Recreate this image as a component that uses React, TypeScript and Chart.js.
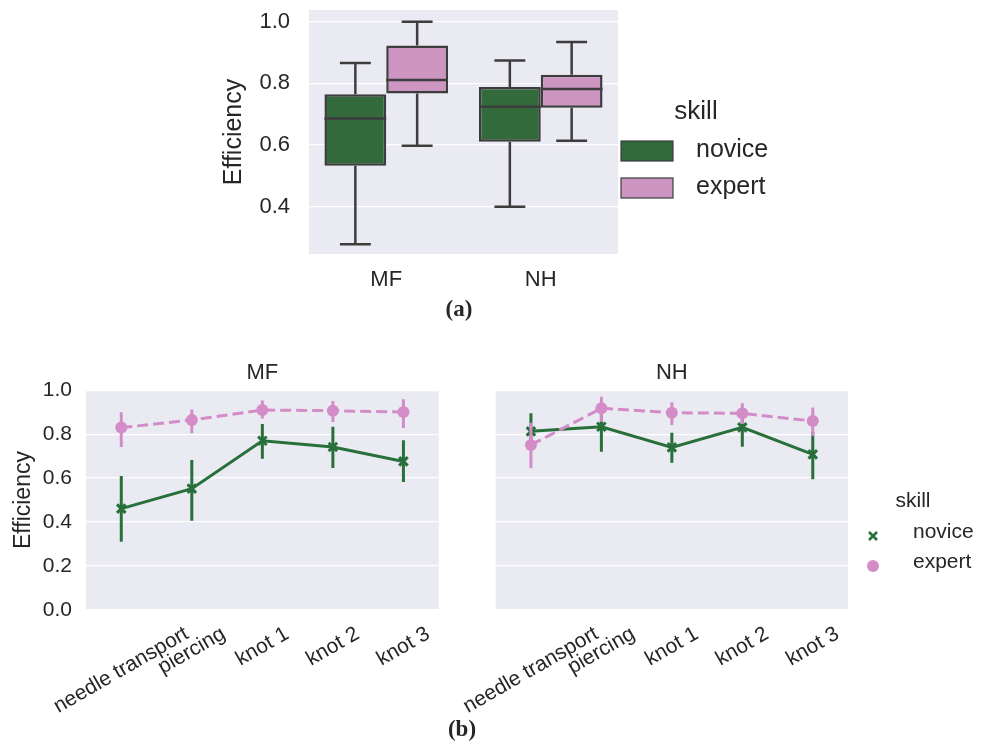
import React, { useEffect, useRef } from 'react';
import { Chart, registerables } from 'chart.js';

Chart.register(...registerables);

// ---------- data: panel (a) box plot ----------
const boxCategories = ['MF', 'NH'];
const skillNames = ['novice', 'expert'];
const noviceBoxMin = [0.279, 0.400];
const noviceBoxQ1 = [0.533, 0.611];
const noviceBoxMedian = [0.686, 0.724];
const noviceBoxQ3 = [0.765, 0.788];
const noviceBoxMax = [0.866, 0.874];
const expertBoxMin = [0.598, 0.614];
const expertBoxQ1 = [0.767, 0.721];
const expertBoxMedian = [0.811, 0.782];
const expertBoxQ3 = [0.923, 0.828];
const expertBoxMax = [1.0, 0.934];
const boxYTicks = [0.4, 0.6, 0.8, 1.0];

// ---------- data: panel (b) point plots ----------
const tasks = ['needle transport', 'piercing', 'knot 1', 'knot 2', 'knot 3'];
const mfNoviceMean = [0.461, 0.552, 0.770, 0.742, 0.676];
const mfNoviceLow = [0.310, 0.406, 0.688, 0.646, 0.582];
const mfNoviceHigh = [0.610, 0.682, 0.846, 0.834, 0.772];
const mfExpertMean = [0.830, 0.865, 0.910, 0.907, 0.901];
const mfExpertLow = [0.742, 0.804, 0.871, 0.856, 0.828];
const mfExpertHigh = [0.900, 0.913, 0.953, 0.951, 0.959];
const nhNoviceMean = [0.813, 0.834, 0.740, 0.831, 0.708];
const nhNoviceLow = [0.735, 0.720, 0.670, 0.743, 0.595];
const nhNoviceHigh = [0.895, 0.940, 0.807, 0.915, 0.810];
const nhExpertMean = [0.751, 0.918, 0.898, 0.895, 0.860];
const nhExpertLow = [0.645, 0.857, 0.842, 0.846, 0.792];
const nhExpertHigh = [0.852, 0.971, 0.945, 0.941, 0.922];
const pointYTicks = [0.0, 0.2, 0.4, 0.6, 0.8, 1.0];

// ---------- styles ----------
const SANS = '"Liberation Sans", Arial, Helvetica, sans-serif';
const SERIF = '"Liberation Serif", "Times New Roman", serif';
const TEXT = '#262626';
const BG = '#eaeaf2';
const GREEN = '#28703a';
const PINK = '#d48cc8';
const BOX_GREEN = '#326a3c';
const BOX_PINK = '#cd96c2';
const EDGE = '#3d3d3d';
const W = 989;
const H = 746;

const bgPlugin = {
  id: 'bgFill',
  beforeDraw(chart: any) {
    const { ctx, chartArea: a } = chart;
    ctx.save();
    ctx.fillStyle = BG;
    ctx.fillRect(a.left, a.top, a.right - a.left, a.bottom - a.top);
    ctx.restore();
  },
};

const boxStats = [
  { min: noviceBoxMin, median: noviceBoxMedian, max: noviceBoxMax, q1: noviceBoxQ1, q3: noviceBoxQ3 },
  { min: expertBoxMin, median: expertBoxMedian, max: expertBoxMax, q1: expertBoxQ1, q3: expertBoxQ3 },
];

const boxPlugin = {
  id: 'boxWhiskers',
  afterDatasetsDraw(chart: any) {
    const ctx = chart.ctx;
    const ys = chart.scales.y;
    chart.data.datasets.forEach((_ds: any, di: number) => {
      const meta = chart.getDatasetMeta(di);
      const st = boxStats[di];
      meta.data.forEach((bar: any, i: number) => {
        const { x, width } = bar.getProps(['x', 'width'], true);
        const yMin = ys.getPixelForValue(st.min[i]);
        const yMax = ys.getPixelForValue(st.max[i]);
        const yQ1 = ys.getPixelForValue(st.q1[i]);
        const yQ3 = ys.getPixelForValue(st.q3[i]);
        const yMed = ys.getPixelForValue(st.median[i]);
        ctx.save();
        ctx.strokeStyle = EDGE;
        ctx.lineWidth = 2.5;
        ctx.lineCap = 'butt';
        ctx.beginPath();
        ctx.moveTo(x, yQ3);
        ctx.lineTo(x, yMax);
        ctx.moveTo(x, yQ1);
        ctx.lineTo(x, yMin);
        ctx.moveTo(x - width / 4, yMax);
        ctx.lineTo(x + width / 4, yMax);
        ctx.moveTo(x - width / 4, yMin);
        ctx.lineTo(x + width / 4, yMin);
        ctx.moveTo(x - width / 2, yMed);
        ctx.lineTo(x + width / 2, yMed);
        ctx.stroke();
        ctx.restore();
      });
    });
  },
};

const legendAPlugin = {
  id: 'legendA',
  afterDraw(chart: any) {
    const ctx = chart.ctx;
    ctx.save();
    ctx.fillStyle = TEXT;
    ctx.textBaseline = 'middle';
    ctx.textAlign = 'center';
    ctx.font = `26px ${SANS}`;
    ctx.fillText('skill', 696, 112);
    const fills = [BOX_GREEN, BOX_PINK];
    const rows = [151, 188];
    skillNames.forEach((name, i) => {
      ctx.fillStyle = fills[i];
      ctx.strokeStyle = EDGE;
      ctx.lineWidth = 1.2;
      ctx.fillRect(621, rows[i] - 10, 52, 20);
      ctx.strokeRect(621, rows[i] - 10, 52, 20);
      ctx.fillStyle = TEXT;
      ctx.textAlign = 'left';
      ctx.font = `25px ${SANS}`;
      ctx.fillText(name, 696, rows[i] - 1);
    });
    ctx.textAlign = 'center';
    ctx.font = `bold 23px ${SERIF}`;
    ctx.fillText('(a)', 459, 310);
    ctx.restore();
  },
};

const errorBarPlugin = {
  id: 'errorBars',
  beforeDatasetDraw(chart: any, args: any) {
    const ds = chart.data.datasets[args.index];
    if (!ds.errLow) return;
    const ctx = chart.ctx;
    const ys = chart.scales.y;
    const meta = chart.getDatasetMeta(args.index);
    ctx.save();
    ctx.strokeStyle = ds.borderColor;
    ctx.lineWidth = 3;
    ctx.beginPath();
    meta.data.forEach((pt: any, i: number) => {
      ctx.moveTo(pt.x, ys.getPixelForValue(ds.errLow[i]));
      ctx.lineTo(pt.x, ys.getPixelForValue(ds.errHigh[i]));
    });
    ctx.stroke();
    ctx.restore();
  },
};

const panelTextPlugin = {
  id: 'panelText',
  afterDraw(chart: any, _args: any, opts: any) {
    const ctx = chart.ctx;
    const a = chart.chartArea;
    const xs = chart.scales.x;
    ctx.save();
    ctx.fillStyle = TEXT;
    ctx.textAlign = 'center';
    ctx.textBaseline = 'middle';
    ctx.font = `22px ${SANS}`;
    ctx.fillText(opts.title, (a.left + a.right) / 2, a.top - 17);
    // rotated category labels, centred under each tick
    const ang = Math.PI / 6;
    const fs = 21;
    ctx.font = `${fs}px ${SANS}`;
    (chart.data.labels as string[]).forEach((lab, i) => {
      const x = xs.getPixelForTick(i);
      const L = ctx.measureText(lab).width;
      const bh = L * Math.sin(ang) + fs * 1.05 * Math.cos(ang);
      const cy = a.bottom + 13 + bh / 2;
      ctx.save();
      ctx.translate(x, cy);
      ctx.rotate(-ang);
      ctx.fillText(lab, 0, 0);
      ctx.restore();
    });
    ctx.restore();
  },
};

const legendBPlugin = {
  id: 'legendB',
  afterDraw(chart: any) {
    const ctx = chart.ctx;
    ctx.save();
    ctx.fillStyle = TEXT;
    ctx.textBaseline = 'middle';
    ctx.textAlign = 'center';
    ctx.font = `21px ${SANS}`;
    ctx.fillText('skill', 913, 501);
    // novice marker (x)
    ctx.strokeStyle = GREEN;
    ctx.lineWidth = 2.5;
    ctx.beginPath();
    ctx.moveTo(869, 532);
    ctx.lineTo(877, 540);
    ctx.moveTo(877, 532);
    ctx.lineTo(869, 540);
    ctx.stroke();
    // expert marker (circle)
    ctx.fillStyle = PINK;
    ctx.beginPath();
    ctx.arc(873, 566, 6, 0, Math.PI * 2);
    ctx.fill();
    ctx.fillStyle = TEXT;
    ctx.textAlign = 'left';
    ctx.fillText('novice', 913, 532);
    ctx.fillText('expert', 913, 562);
    ctx.textAlign = 'center';
    ctx.font = `bold 23px ${SERIF}`;
    ctx.fillText('(b)', 462, 730);
    ctx.restore();
  },
};

// remove the automatic label overhang padding so the plot area sits exactly where the layout says
const noOverhang = (s: any) => {
  s.paddingTop = 0;
  s.paddingBottom = 0;
  s.paddingLeft = 0;
  s.paddingRight = 0;
};

function boxConfig(): any {
  return {
    type: 'bar',
    data: {
      labels: boxCategories,
      datasets: [
        {
          label: skillNames[0],
          data: boxCategories.map((_, i) => [noviceBoxQ1[i], noviceBoxQ3[i]]),
          backgroundColor: BOX_GREEN,
          borderColor: EDGE,
          borderWidth: 2.5,
          borderSkipped: false,
          categoryPercentage: 0.8,
          barPercentage: 1.0,
        },
        {
          label: skillNames[1],
          data: boxCategories.map((_, i) => [expertBoxQ1[i], expertBoxQ3[i]]),
          backgroundColor: BOX_PINK,
          borderColor: EDGE,
          borderWidth: 2.5,
          borderSkipped: false,
          categoryPercentage: 0.8,
          barPercentage: 1.0,
        },
      ],
    },
    options: {
      responsive: false,
      animation: false,
      layout: { padding: { left: 209, right: 371, top: 10, bottom: 432 } },
      plugins: { legend: { display: false }, tooltip: { enabled: false } },
      scales: {
        x: {
          grid: { display: false, drawTicks: false },
          border: { display: false },
          ticks: { font: { family: SANS, size: 22 }, color: TEXT, padding: 13 },
          afterFit: (s: any) => { s.height = 60; noOverhang(s); },
        },
        y: {
          min: 0.247,
          max: 1.038,
          afterBuildTicks: (s: any) => { s.ticks = boxYTicks.map((v) => ({ value: v })); },
          grid: { color: '#ffffff', lineWidth: 1.3, drawTicks: false },
          border: { display: false },
          ticks: {
            font: { family: SANS, size: 22 },
            color: TEXT,
            padding: 19,
            callback: (v: any) => Number(v).toFixed(1),
          },
          title: {
            display: true,
            text: 'Efficiency',
            font: { family: SANS, size: 25 },
            color: TEXT,
            padding: { top: 10, bottom: 0 },
          },
          afterFit: (s: any) => { s.width = 100; noOverhang(s); },
        },
      },
    },
    plugins: [bgPlugin, boxPlugin, legendAPlugin],
  };
}

function pointConfig(
  title: string,
  noviceMean: number[], noviceLow: number[], noviceHigh: number[],
  expertMean: number[], expertLow: number[], expertHigh: number[],
  showY: boolean, padLeft: number, padRight: number, extra: any[],
): any {
  return {
    type: 'line',
    data: {
      labels: tasks,
      datasets: [
        {
          label: skillNames[0],
          data: noviceMean,
          errLow: noviceLow,
          errHigh: noviceHigh,
          borderColor: GREEN,
          backgroundColor: GREEN,
          borderWidth: 3,
          pointStyle: 'crossRot',
          pointRadius: 6,
          pointBorderWidth: 3,
          pointBorderColor: GREEN,
          tension: 0,
          order: 2,
        },
        {
          label: skillNames[1],
          data: expertMean,
          errLow: expertLow,
          errHigh: expertHigh,
          borderColor: PINK,
          backgroundColor: PINK,
          borderWidth: 3,
          borderDash: [11, 5],
          pointStyle: 'circle',
          pointRadius: 6,
          pointBorderWidth: 0,
          pointBackgroundColor: PINK,
          tension: 0,
          order: 1,
        },
      ],
    },
    options: {
      responsive: false,
      animation: false,
      layout: { padding: { left: padLeft, right: padRight, top: 390.3, bottom: 76.2 } },
      plugins: {
        legend: { display: false },
        tooltip: { enabled: false },
        panelText: { title },
      },
      scales: {
        x: {
          offset: true,
          grid: { display: false, drawTicks: false },
          border: { display: false },
          ticks: { display: false },
          afterFit: (s: any) => { s.height = 60; noOverhang(s); },
        },
        y: {
          min: 0,
          max: 1,
          afterBuildTicks: (s: any) => { s.ticks = pointYTicks.map((v) => ({ value: v })); },
          grid: { color: '#ffffff', lineWidth: 1.3, drawTicks: false },
          border: { display: false },
          ticks: {
            display: showY,
            font: { family: SANS, size: 21 },
            color: TEXT,
            padding: 14,
            callback: (v: any) => Number(v).toFixed(1),
          },
          title: {
            display: showY,
            text: 'Efficiency',
            font: { family: SANS, size: 23 },
            color: TEXT,
            padding: { top: 4, bottom: 0 },
          },
          afterFit: (s: any) => { s.width = showY ? 80 : 0; noOverhang(s); },
        },
      },
    },
    plugins: [bgPlugin, errorBarPlugin, panelTextPlugin, ...extra],
  };
}

const canvasStyle: React.CSSProperties = {
  position: 'absolute',
  left: 0,
  top: 0,
  width: W,
  height: H,
};

export default function App() {
  const refA = useRef<HTMLCanvasElement>(null);
  const refB = useRef<HTMLCanvasElement>(null);
  const refC = useRef<HTMLCanvasElement>(null);

  useEffect(() => {
    const charts: Chart[] = [];
    if (refA.current) charts.push(new Chart(refA.current, boxConfig()));
    if (refB.current)
      charts.push(new Chart(refB.current, pointConfig('MF',
        mfNoviceMean, mfNoviceLow, mfNoviceHigh,
        mfExpertMean, mfExpertLow, mfExpertHigh,
        true, 6, 550.3, [])));
    if (refC.current)
      charts.push(new Chart(refC.current, pointConfig('NH',
        nhNoviceMean, nhNoviceLow, nhNoviceHigh,
        nhExpertMean, nhExpertLow, nhExpertHigh,
        false, 495.7, 141, [legendBPlugin])));
    return () => charts.forEach((c) => c.destroy());
  }, []);

  return (
    <div style={{ position: 'absolute', left: 0, top: 0, width: W, height: H, background: '#ffffff', overflow: 'hidden' }}>
      <canvas ref={refA} width={W} height={H} style={canvasStyle} />
      <canvas ref={refB} width={W} height={H} style={canvasStyle} />
      <canvas ref={refC} width={W} height={H} style={canvasStyle} />
    </div>
  );
}
